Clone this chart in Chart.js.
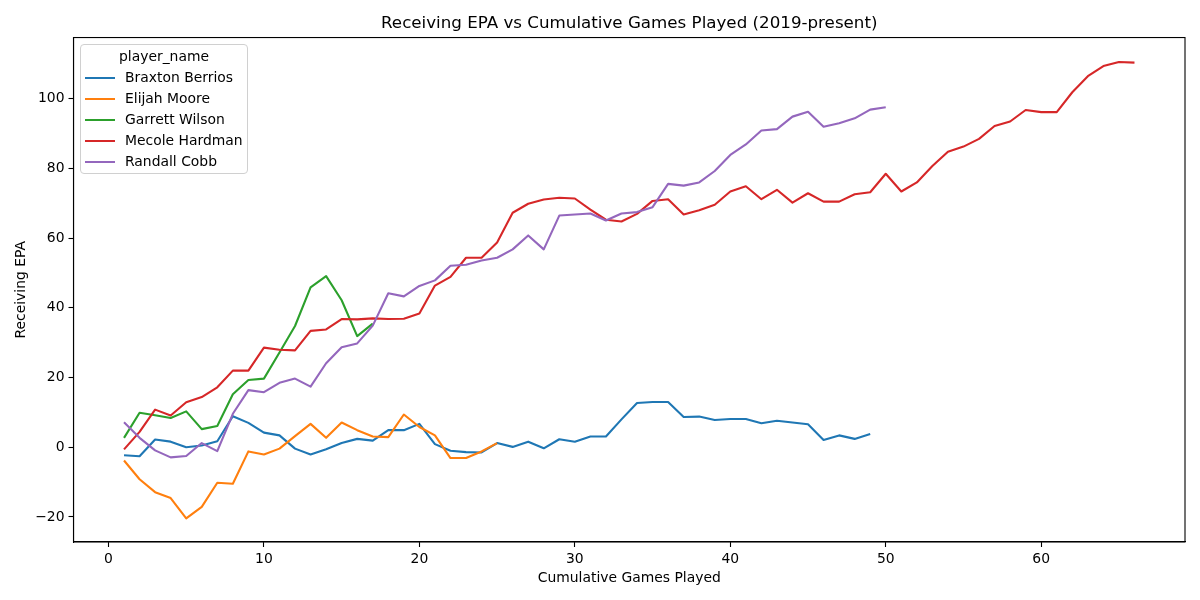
<!DOCTYPE html>
<html>
<head>
<meta charset="utf-8">
<script src="https://cdn.jsdelivr.net/npm/chart.js@4.4.1/dist/chart.umd.min.js"></script>
<style>
  body { margin: 0; background: #fff; font-family: "DejaVu Sans", sans-serif; }
  #wrap { position: relative; width: 1200px; height: 600px; }
  #legend {
    position: absolute; left: 80px; top: 44px; width: 168px; height: 130px;
    border: 1px solid #d0d0d0; border-radius: 4px; background: rgba(255,255,255,0.8);
    font-size: 13.9px; color: #000; box-sizing: border-box;
  }
  #legend .ttl { text-align: center; margin-top: 1px; height: 21px; line-height: 21px; }
  #legend .row { position: relative; height: 21px; line-height: 21px; }
  #legend .row i { position: absolute; left: 4px; top: 10px; width: 30px; height: 2px; }
  #legend .row span { position: absolute; left: 44px; top: 0; }
</style>
</head>
<body>
<div id="wrap">
  <canvas id="chart" width="1200" height="600"></canvas>
  <div id="legend"></div>
</div>
<script>
// 数据：每场累计接球 EPA（从第 1 场开始）
const playerNames = ['Braxton Berrios', 'Elijah Moore', 'Garrett Wilson', 'Mecole Hardman', 'Randall Cobb'];
const playerColors = ['#1f77b4', '#ff7f0e', '#2ca02c', '#d62728', '#9467bd'];

const braxtonBerrios = [-2.3, -2.6, 2.2, 1.6, 0.0, 0.5, 1.7, 8.9, 7.0, 4.2,
  3.4, -0.4, -2.1, -0.6, 1.2, 2.4, 1.9, 4.9, 4.9, 6.7,
  0.9, -1.0, -1.4, -1.5, 1.2, 0.1, 1.6, -0.3, 2.3, 1.6,
  3.1, 3.1, 8.0, 12.7, 13.0, 13.0, 8.7, 8.8, 7.8, 8.1,
  8.1, 6.9, 7.6, 7.1, 6.6, 2.1, 3.4, 2.4, 3.8];
const elijahMoore = [-3.8, -9.2, -12.9, -14.6, -20.4, -17.1, -10.2, -10.5, -1.2, -2.1,
  -0.4, 3.2, 6.7, 2.7, 7.1, 4.9, 3.1, 2.9, 9.4, 5.8,
  3.4, -3.1, -3.1, -1.2, 1.2];
const garrettWilson = [2.7, 9.9, 9.2, 8.4, 10.3, 5.2, 6.1, 15.2, 19.3, 19.7,
  27.2, 34.8, 45.9, 49.1, 42.2, 31.9, 35.5];
const mecoleHardman = [-0.6, 4.4, 10.8, 9.1, 12.9, 14.4, 17.2, 22.0, 22.0, 28.6,
  28.0, 27.8, 33.4, 33.8, 36.8, 36.7, 37.0, 36.8, 36.9, 38.4,
  46.4, 48.9, 54.4, 54.4, 58.8, 67.3, 69.9, 71.1, 71.6, 71.4,
  68.2, 65.3, 64.8, 67.0, 70.7, 71.2, 66.8, 68.0, 69.6, 73.4,
  74.9, 71.2, 73.9, 70.2, 72.9, 70.5, 70.5, 72.6, 73.2, 78.5,
  73.4, 76.0, 80.7, 84.8, 86.3, 88.5, 92.2, 93.5, 96.8, 96.2,
  96.2, 101.9, 106.5, 109.4, 110.6, 110.4];
const randallCobb = [7.2, 2.7, -0.9, -2.9, -2.5, 1.2, -1.1, 9.6, 16.4, 15.8,
  18.5, 19.7, 17.4, 24.1, 28.7, 29.8, 34.9, 44.2, 43.3, 46.3,
  47.9, 52.1, 52.4, 53.6, 54.4, 56.8, 60.8, 56.8, 66.5, 66.8,
  67.1, 65.1, 67.1, 67.5, 68.9, 75.6, 75.1, 76.0, 79.3, 83.9,
  86.9, 90.9, 91.3, 94.9, 96.3, 92.0, 93.0, 94.4, 96.9, 97.6];

const xTicks = [0, 10, 20, 30, 40, 50, 60];
const yTicks = [-20, 0, 20, 40, 60, 80, 100];

const seriesValues = [braxtonBerrios, elijahMoore, garrettWilson, mecoleHardman, randallCobb];

const tickFont = { family: 'DejaVu Sans', size: 13.9 };

// 上边和右边的框线
const frameBox = {
  id: 'frameBox',
  afterDraw(chart) {
    const { ctx, chartArea: a } = chart;
    ctx.save();
    ctx.strokeStyle = '#000';
    ctx.lineWidth = 1.1;
    ctx.strokeRect(a.left, a.top, a.right - a.left, a.bottom - a.top);
    ctx.restore();
  }
};

new Chart(document.getElementById('chart'), {
  type: 'line',
  data: {
    datasets: seriesValues.map((vals, i) => ({
      label: playerNames[i],
      data: vals.map((v, k) => ({ x: k + 1, y: v })),
      borderColor: playerColors[i],
      backgroundColor: playerColors[i],
      borderWidth: 2.1,
      borderJoinStyle: 'round',
      pointRadius: 0,
      tension: 0,
      fill: false,
      order: seriesValues.length - i,
    }))
  },
  options: {
    responsive: false,
    animation: false,
    devicePixelRatio: 1,
    layout: { padding: { left: 0, right: 15, top: 0, bottom: 0 } },
    plugins: {
      legend: { display: false },
      tooltip: { enabled: false },
      title: {
        display: true,
        fullSize: false,
        text: 'Receiving EPA vs Cumulative Games Played (2019-present)',
        color: '#000',
        font: { family: 'DejaVu Sans', size: 16.7, weight: 'normal' },
        padding: { top: 14, bottom: 3.5 }
      }
    },
    scales: {
      x: {
        type: 'linear',
        min: -2.25,
        max: 69.25,
        afterBuildTicks: s => { s.ticks = xTicks.map(v => ({ value: v })); },
        afterFit: s => { s.height = 58; },
        ticks: { color: '#000', font: tickFont, padding: 4, maxRotation: 0, autoSkip: false },
        grid: { drawOnChartArea: false, drawTicks: true, tickLength: 5, color: '#000', tickWidth: 1.1 },
        border: { display: true, color: '#000', width: 1.1 },
        title: {
          display: true,
          text: 'Cumulative Games Played',
          color: '#000',
          font: tickFont,
          padding: { top: 0, bottom: 13.5 }
        }
      },
      y: {
        type: 'linear',
        min: -27.2,
        max: 117.6,
        afterBuildTicks: s => { s.ticks = yTicks.map(v => ({ value: v })); },
        afterFit: s => { s.width = 73.5; },
        ticks: {
          color: '#000', font: tickFont, padding: 4,
          callback: v => String(v).replace('-', '\u2212')
        },
        grid: { drawOnChartArea: false, drawTicks: true, tickLength: 5, color: '#000', tickWidth: 1.1 },
        border: { display: true, color: '#000', width: 1.1 },
        title: {
          display: true,
          text: 'Receiving EPA',
          color: '#000',
          font: tickFont,
          padding: { top: 13.5, bottom: 0 }
        }
      }
    }
  },
  plugins: [frameBox]
});

// 图例（HTML 实文本）
const legendEl = document.getElementById('legend');
let html = '<div class="ttl">player_name</div>';
playerNames.forEach((name, i) => {
  html += '<div class="row"><i style="background:' + playerColors[i] + '"></i><span>' + name + '</span></div>';
});
legendEl.innerHTML = html;
</script>
</body>
</html>
